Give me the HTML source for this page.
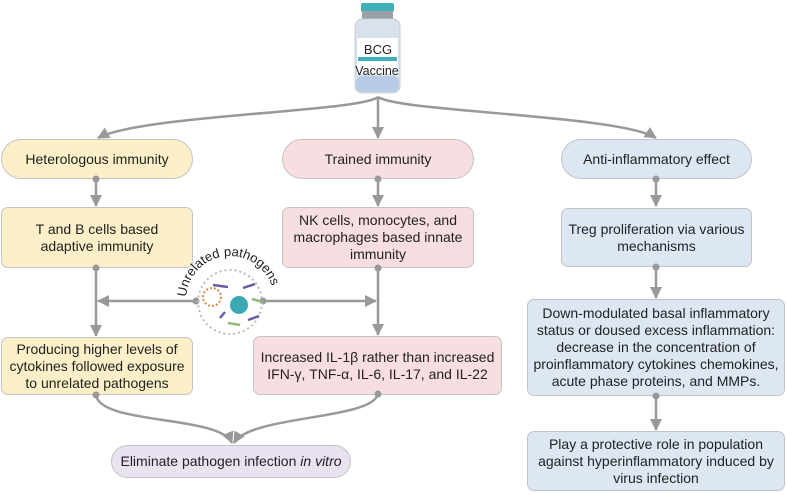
<!DOCTYPE html>
<html><head><meta charset="utf-8"><style>
body{margin:0;width:787px;height:494px;background:#fff;position:relative;overflow:hidden;font-family:"Liberation Sans",sans-serif;color:#222}
.b{position:absolute;box-sizing:border-box;border:1.5px solid #c4c4c4;display:flex;align-items:center;justify-content:center;text-align:center;font-size:14px;line-height:17px;border-radius:7px;z-index:1}
.y{background:#fdf0c8}.p{background:#f8dde1}.bl{background:#dde7f4}.v{background:#e9e2f1}
.pill{border-radius:20px}
svg{position:absolute;left:0;top:0;z-index:2}
</style></head><body>
<svg width="787" height="494" viewBox="0 0 787 494">
<defs><marker id="a" markerWidth="12" markerHeight="12" refX="11" refY="6" orient="auto" markerUnits="userSpaceOnUse"><path d="M0,0 L12,6 L0,12 z" fill="#999"/></marker></defs>
<g stroke="#999" stroke-width="2.5" fill="none">
<path d="M378,97 C360,112 140,115 98,138" marker-end="url(#a)"/>
<path d="M378,97 L378,138" marker-end="url(#a)"/>
<path d="M378,97 C400,112 620,115 656,138" marker-end="url(#a)"/>
<path d="M96,179 L96,206" marker-end="url(#a)"/>
<path d="M378,179 L378,206" marker-end="url(#a)"/>
<path d="M656,179 L656,206" marker-end="url(#a)"/>
<path d="M96,268 L96,336" marker-end="url(#a)"/>
<path d="M378,268 L378,335" marker-end="url(#a)"/>
<path d="M656,267 L656,298" marker-end="url(#a)"/>
<path d="M656,396 L656,430" marker-end="url(#a)"/>
<path d="M196,301 L98,301" marker-end="url(#a)"/>
<path d="M263,301 L376,301" marker-end="url(#a)"/>
<path d="M96,395 C100,425 220,415 232,443" marker-end="url(#a)"/>
<path d="M378,394 C372,420 250,415 234,443" marker-end="url(#a)"/>
</g>
<g fill="#999">
<circle cx="96" cy="179" r="3.5"/><circle cx="378" cy="179" r="3.5"/><circle cx="656" cy="179" r="3.5"/>
<circle cx="96" cy="268" r="3.5"/><circle cx="378" cy="268" r="3.5"/><circle cx="656" cy="267" r="3.5"/>
<circle cx="656" cy="396" r="3.5"/><circle cx="96" cy="395" r="3.5"/><circle cx="378" cy="394" r="3.5"/>
<circle cx="196" cy="301" r="3.5"/><circle cx="263" cy="301" r="3.5"/>
</g>
<circle cx="230" cy="302" r="32" fill="none" stroke="#bbb" stroke-width="2" stroke-dasharray="2 3"/>
<circle cx="212" cy="297" r="9" fill="none" stroke="#d98a4a" stroke-width="2" stroke-dasharray="2 2"/>
<circle cx="239" cy="305" r="9" fill="#3aa9b3"/>
<g stroke="#6b5aa8" stroke-width="2.5"><path d="M213,285 L228,287"/><path d="M243,288 L255,284"/><path d="M220,318 L225,312"/><path d="M248,320 L259,316"/></g>
<g stroke="#8fbf7a" stroke-width="2.5"><path d="M252,299 L263,302"/><path d="M228,323 L240,325"/></g>
<path id="arc" d="M186,300 A44,44 0 0 1 274,300" fill="none"/>
<text font-family="Liberation Sans,sans-serif" font-size="13" fill="#222"><textPath href="#arc" startOffset="3">Unrelated pathogens</textPath></text>
<!-- vial -->
<rect x="361" y="3" width="33" height="9" rx="2" fill="#3fb0b5"/>
<rect x="362" y="11" width="31" height="8" fill="#9a9fa6"/>
<rect x="355" y="19" width="45" height="74" rx="7" fill="#d9e1ea" stroke="#c8d0da"/>
<rect x="356" y="76" width="43" height="16" rx="6" fill="#b7cbe6"/>
<rect x="357" y="38" width="41" height="36" fill="#fff"/>
<rect x="358" y="57" width="39" height="4" fill="#3fb0b5"/>
<text x="378" y="54" text-anchor="middle" font-family="Liberation Sans,sans-serif" font-size="13" fill="#222">BCG</text>
<text x="377" y="75" text-anchor="middle" font-family="Liberation Sans,sans-serif" font-size="12.5" fill="#222">Vaccine</text>
</svg>
<div class="b y pill" style="left:1px;top:139px;width:192px;height:40px">Heterologous immunity</div>
<div class="b p pill" style="left:282px;top:139px;width:192px;height:40px">Trained immunity</div>
<div class="b bl pill" style="left:561px;top:139px;width:191px;height:40px">Anti-inflammatory effect</div>
<div class="b y" style="left:1px;top:207px;width:192px;height:61px">T and B cells based<br>adaptive immunity</div>
<div class="b p" style="left:282px;top:207px;width:192px;height:61px">NK cells, monocytes, and<br>macrophages based innate<br>immunity</div>
<div class="b bl" style="left:561px;top:208px;width:191px;height:59px">Treg proliferation via various<br>mechanisms</div>
<div class="b y" style="left:1px;top:337px;width:192px;height:58px">Producing higher levels of<br>cytokines followed exposure<br>to unrelated pathogens</div>
<div class="b p" style="left:253px;top:336px;width:249px;height:59px">Increased IL-1β rather than increased<br>IFN-γ, TNF-α, IL-6, IL-17, and IL-22</div>
<div class="b bl" style="left:527px;top:299px;width:258px;height:97px">Down-modulated basal inflammatory<br>status or doused excess inflammation:<br>decrease in the concentration of<br>proinflammatory cytokines chemokines,<br>acute phase proteins, and MMPs.</div>
<div class="b bl" style="left:527px;top:431px;width:258px;height:60px">Play a protective role in population<br>against hyperinflammatory induced by<br>virus infection</div>
<div class="b v pill" style="left:111px;top:445px;width:240px;height:33px">Eliminate pathogen infection&nbsp;<i>in vitro</i></div>
</body></html>
